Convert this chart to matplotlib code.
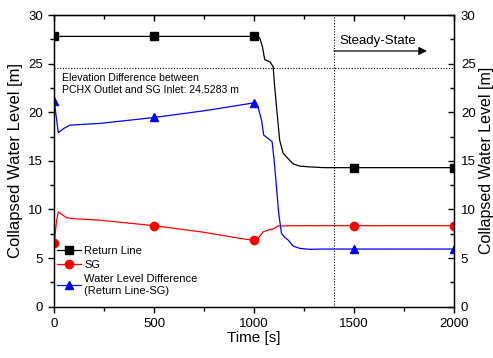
import matplotlib

matplotlib.use("Agg")
import matplotlib.pyplot as plt
from matplotlib.ticker import MultipleLocator

# values
time_return = [0, 500, 1000, 1020, 1029, 1042, 1053, 1078, 1095, 1103, 1115, 1128,
               1145, 1162, 1195, 1228, 1278, 1350, 2000]
return_line = [27.8, 27.8, 27.8, 27.75, 27.6, 26.7, 25.4, 25.2, 24.7, 22.6, 19.9, 17.1,
               15.8, 15.4, 14.7, 14.46, 14.38, 14.3, 14.3]

time_sg = [0, 5, 12, 20, 37, 62, 95, 228, 500, 750, 928, 1000, 1020, 1045, 1070,
           1095, 1120, 1200, 2000]
sg_level = [6.6, 7.6, 8.9, 9.75, 9.5, 9.15, 9.05, 8.9, 8.33, 7.65, 7.03, 6.82, 7.03,
            7.7, 7.88, 8.0, 8.3, 8.33, 8.33]

time_diff = [0, 5, 12, 20, 45, 78, 228, 500, 750, 928, 1000, 1020, 1037, 1048, 1070,
             1090, 1100, 1112, 1123, 1137, 1153, 1170, 1195, 1228, 1278, 1350, 2000]
level_diff = [21.2, 20.3, 19.2, 17.9, 18.3, 18.67, 18.85, 19.46, 20.15, 20.73, 20.97,
              20.5, 19.2, 17.65, 17.3, 16.96, 15.1, 12.3, 9.6, 7.54, 7.13, 6.86, 6.24,
              6.0, 5.9, 5.93, 5.93]

marker_times = [0, 500, 1000, 1500, 2000]
return_marks = [27.8, 27.8, 27.8, 14.3, 14.3]
sg_marks = [6.6, 8.33, 6.82, 8.33, 8.33]
diff_marks = [21.2, 19.46, 20.97, 5.93, 5.93]

elevation_diff = 24.5283
steady_start = 1400

plt.rcParams["font.family"] = ["Liberation Sans", "DejaVu Sans"]

fig = plt.figure(figsize=(4.93, 3.58), dpi=100)
ax = fig.add_axes([0.1101, 0.1433, 0.8107, 0.8148])

series = [
    (time_return, return_line, return_marks, "black", "s", "Return Line"),
    (time_sg, sg_level, sg_marks, "#ff0000", "o", "SG"),
    (time_diff, level_diff, diff_marks, "#0000ff", "^",
     "Water Level Difference\n(Return Line-SG)"),
]
handles = []
for t, v, m, color, marker, label in series:
    ax.plot(t, v, color=color, lw=0.9)
    ax.plot(marker_times, m, ls="none", marker=marker, ms=6, color=color)
    (h,) = ax.plot([], [], color=color, lw=0.9, marker=marker, ms=6, label=label)
    handles.append(h)

ax.axhline(elevation_diff, color="black", ls=(0, (1, 1.5)), lw=0.8)
ax.axvline(steady_start, color="black", ls=(0, (1, 1.5)), lw=0.8)

ax.text(40, 24.0, "Elevation Difference between\nPCHX Outlet and SG Inlet: 24.5283 m",
        fontsize=7.6, va="top", ha="left", linespacing=1.25)
ax.text(1425, 26.75, "Steady-State", fontsize=9.5, va="bottom", ha="left")
ax.annotate("", xy=(1865, 26.3), xytext=(steady_start, 26.3),
            arrowprops={"arrowstyle": "-|>", "color": "black", "lw": 0.9,
                        "mutation_scale": 12, "shrinkA": 0, "shrinkB": 0})

ax.set_xlim(0, 2000)
ax.set_ylim(0, 30)
ax.xaxis.set_major_locator(MultipleLocator(500))
ax.xaxis.set_minor_locator(MultipleLocator(250))
ax.yaxis.set_major_locator(MultipleLocator(5))
ax.yaxis.set_minor_locator(MultipleLocator(2.5))
ax.set_xlabel("Time [s]", fontsize=11, labelpad=1)
ax.set_ylabel("Collapsed Water Level [m]", fontsize=12, labelpad=4)

for spine in ax.spines.values():
    spine.set_linewidth(1.0)
ax.tick_params(which="both", direction="out", labelsize=9.5, width=1.0,
               top=False, right=False)
ax.tick_params(which="major", length=4.5)
ax.tick_params(which="minor", length=3)

# mirrored axes: ticks point inward on top and right, labels only on the right
top = ax.secondary_xaxis("top")
top.xaxis.set_major_locator(MultipleLocator(500))
top.xaxis.set_minor_locator(MultipleLocator(250))
top.tick_params(which="both", direction="in", labeltop=False, width=1.0)
top.tick_params(which="major", length=4.5)
top.tick_params(which="minor", length=3)

right = ax.twinx()
right.set_ylim(0, 30)
right.yaxis.set_major_locator(MultipleLocator(5))
right.yaxis.set_minor_locator(MultipleLocator(2.5))
right.tick_params(which="both", direction="in", labelsize=9.5, width=1.0)
right.tick_params(which="major", length=4.5, pad=5)
right.tick_params(which="minor", length=3)
right.set_ylabel("Collapsed Water Level [m]", fontsize=11.5, labelpad=2)

ax.legend(handles=handles, loc="upper left", bbox_to_anchor=(0.0, 0.215),
          frameon=False, fontsize=8, handlelength=2.2, handletextpad=0.3,
          labelspacing=0.35, borderaxespad=0.0, borderpad=0.2)

fig.savefig("out.png", dpi=100)
